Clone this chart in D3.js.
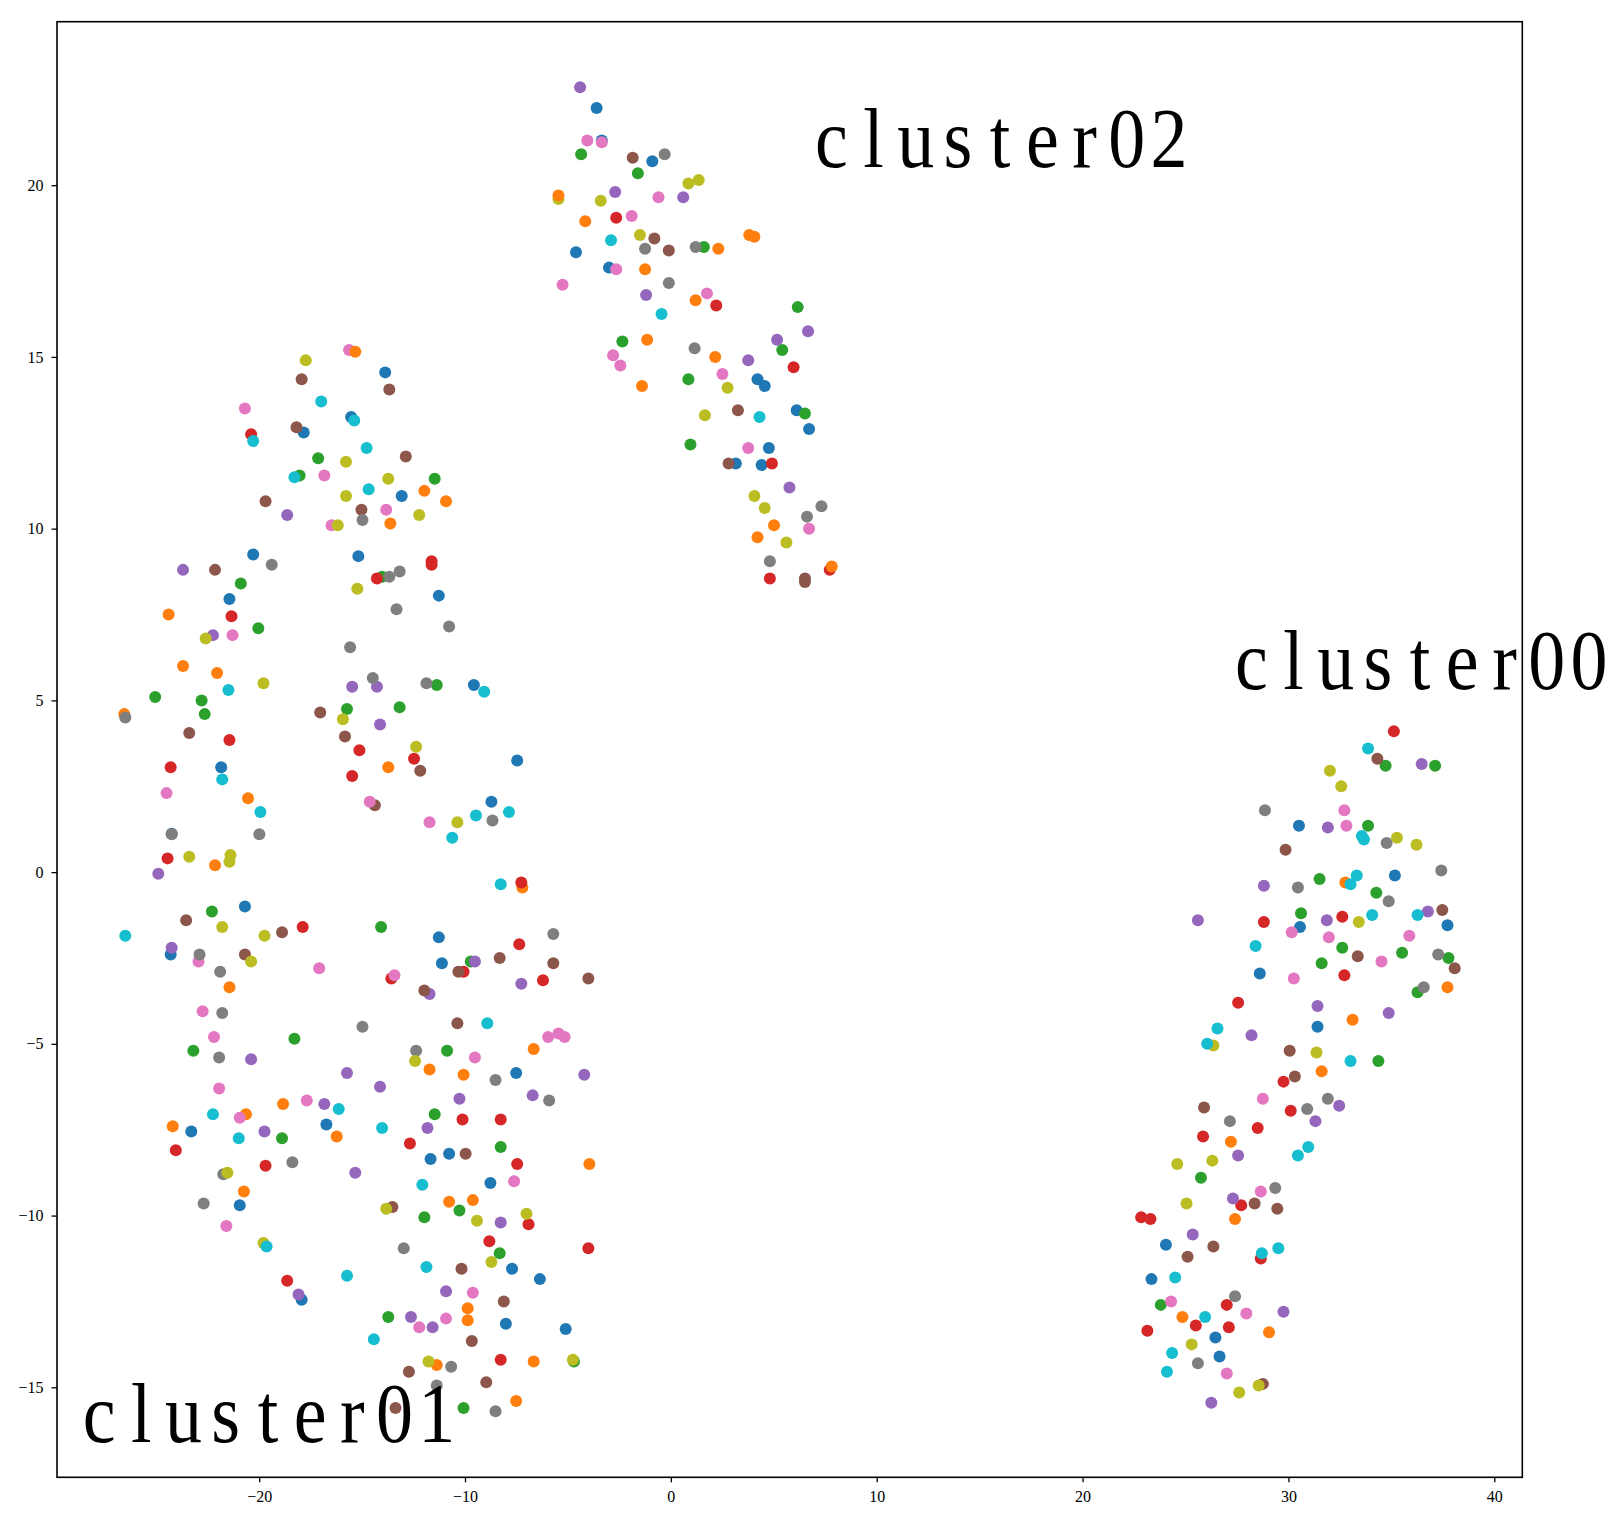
<!DOCTYPE html>
<html><head><meta charset="utf-8">
<script src="https://cdn.jsdelivr.net/npm/d3@7"></script>
<style>html,body{margin:0;padding:0;background:#fff}svg{display:block}</style></head>
<body><svg id="c" width="1617" height="1532"></svg>
<script>
const xTicks=[-20,-10,0,10,20,30,40];
const yTicks=[-15,-10,-5,0,5,10,15,20];
const colors=["#1f77b4","#ff7f0e","#2ca02c","#d62728","#9467bd","#8c564b","#e377c2","#7f7f7f","#bcbd22","#17becf","#ff7f0e"];
const labels=[["cluster02",6.77,20.53],["cluster00",27.17,5.33],["cluster01",-28.8,-16.6]];
const blue=[[-3.6,22.25],[-3.35,21.3],[-0.9,20.7],[-4.6,18.05],[-3,17.6],[4.2,14.35],[4.55,14.15],[6.1,13.45],[6.7,12.9],[4.75,12.35],[3.15,11.9],[4.4,11.85],
[-13.85,14.55],[-15.5,13.25],[-17.8,12.8],[-13.05,10.95],[-20.25,9.25],[-15.15,9.2],[-21.4,7.95],[-11.25,8.05],[-9.55,5.45],[-7.45,3.25],[-21.8,3.05],[-8.7,2.05],[-24.2,1.12],[-20.65,-1],[-11.25,-1.9],[-24.25,-2.4],[-11.1,-2.65],[-7.5,-5.85],[-23.25,-7.55],[-16.7,-7.35],[-10.75,-8.2],[-11.65,-8.35],[-8.75,-9.05],[-20.9,-9.7],[-7.7,-11.55],[-6.35,-11.85],[-17.9,-12.45],[-8,-13.15],[-5.1,-13.3],
[30.45,1.35],[35.1,-0.1],[37.65,-1.55],[30.5,-1.6],[28.55,-2.95],[31.35,-4.5],[24,-10.85],[23.3,-11.85],[26.4,-13.55],[26.6,-14.1]];
const orange=[[-4.15,18.95],[2.3,18.15],[3.8,18.55],[4.05,18.5],[-1.25,17.55],[1.2,16.65],[-1.15,15.5],[2.15,15],[-1.4,14.15],[5,10.1],[4.2,9.75],
[-11.95,11.1],[-10.9,10.8],[-13.6,10.15],[-24.35,7.5],[-23.65,6],[-22,5.8],[-26.5,4.6],[-13.7,3.05],[-20.5,2.15],[-22.1,0.2],[-7.2,-0.45],[-21.4,-3.35],[-6.65,-5.15],[-11.7,-5.75],[-10.05,-5.9],[-18.8,-6.75],[-20.6,-7.05],[-24.15,-7.4],[-16.2,-7.7],[-3.95,-8.5],[-20.7,-9.3],[-10.75,-9.6],[-9.6,-9.55],[-9.85,-12.7],[-9.85,-13.05],[-11.35,-14.35],[-6.65,-14.25],[-7.5,-15.4],
[32.7,-0.3],[37.65,-3.35],[33.05,-4.3],[31.55,-5.8],[27.15,-7.85],[27.35,-10.1],[24.8,-12.95],[29,-13.4]];
const orangeOnTop=[[-5.45,19.7],[7.8,8.9],[-15.3,15.15]];
const green=[[-4.35,20.9],[-1.6,20.35],[1.6,18.2],[6.15,16.45],[5.4,15.2],[-2.35,15.45],[0.85,14.35],[6.5,13.35],[0.95,12.45],
[-17.1,12.05],[-18,11.55],[-11.45,11.45],[-14,8.6],[-20.85,8.4],[-20,7.1],[-11.35,5.45],[-25,5.1],[-22.75,5],[-13.15,4.8],[-15.7,4.75],[-22.6,4.6],[-22.25,-1.15],[-14.05,-1.6],[-9.7,-2.6],[-18.25,-4.85],[-23.15,-5.2],[-10.85,-5.2],[-11.45,-7.05],[-18.85,-7.75],[-8.25,-8],[-10.25,-9.85],[-11.95,-10.05],[-8.3,-11.1],[-13.7,-12.95],[-4.7,-14.25],[-10.05,-15.6],
[34.65,3.1],[37.05,3.1],[33.8,1.35],[31.45,-0.2],[34.2,-0.6],[30.55,-1.2],[32.55,-2.2],[35.45,-2.35],[37.7,-2.5],[31.55,-2.65],[36.2,-3.5],[34.3,-5.5],[25.7,-8.9],[23.75,-12.6]];
const red=[[-2.65,19.05],[2.2,16.5],[5.95,14.7],[4.9,11.9],[4.8,8.55],[7.7,8.8],
[-20.35,12.75],[-11.6,9.05],[-11.6,8.95],[-14.25,8.55],[-21.3,7.45],[-21.4,3.85],[-15.1,3.55],[-12.45,3.3],[-24.25,3.05],[-15.45,2.8],[-24.4,0.4],[-7.25,-0.3],[-17.85,-1.6],[-7.35,-2.1],[-10.05,-2.9],[-13.55,-3.1],[-6.2,-3.15],[-10.1,-7.2],[-8.25,-7.2],[-12.65,-7.9],[-24,-8.1],[-7.45,-8.5],[-19.65,-8.55],[-6.9,-10.25],[-8.8,-10.75],[-4,-10.95],[-18.6,-11.9],[-8.25,-14.2],
[35.05,4.1],[32.55,-1.3],[28.75,-1.45],[32.65,-3],[27.5,-3.8],[29.7,-6.1],[30.05,-6.95],[28.45,-7.45],[25.8,-7.7],[27.65,-9.7],[22.8,-10.05],[23.25,-10.1],[28.6,-11.25],[26.95,-12.6],[25.45,-13.2],[27.05,-13.25],[23.1,-13.35]];
const purple=[[-4.4,22.85],[-2.7,19.8],[0.6,19.65],[-1.2,16.8],[5.15,15.5],[6.65,15.75],[3.75,14.9],[5.75,11.2],
[-18.6,10.4],[-23.65,8.8],[-22.2,6.9],[-15.45,5.4],[-14.25,5.4],[-14.1,4.3],[-24.85,-0.05],[-24.2,-2.2],[-9.5,-2.6],[-7.25,-3.25],[-11.7,-3.55],[-20.35,-5.45],[-15.7,-5.85],[-4.2,-5.9],[-14.1,-6.25],[-6.7,-6.5],[-10.25,-6.6],[-16.8,-6.75],[-11.8,-7.45],[-19.7,-7.55],[-15.3,-8.75],[-8.25,-10.2],[-10.9,-12.2],[-18.05,-12.3],[-12.6,-12.95],[-11.55,-13.25],
[36.4,3.15],[31.85,1.3],[28.75,-0.4],[36.7,-1.15],[31.8,-1.4],[25.55,-1.4],[31.35,-3.9],[34.8,-4.1],[28.15,-4.75],[32.4,-6.8],[31.25,-7.25],[27.5,-8.25],[27.25,-9.5],[25.3,-10.55],[29.7,-12.8],[26.2,-15.45]];
const brown=[[-1.85,20.8],[-0.8,18.45],[-0.1,18.1],[3.25,13.45],[2.8,11.9],[6.5,8.55],[6.5,8.45],
[-17.9,14.35],[-13.65,14.05],[-18.15,12.95],[-12.85,12.1],[-19.65,10.8],[-15,10.55],[-22.1,8.8],[-17,4.65],[-23.35,4.05],[-15.8,3.95],[-12.15,2.95],[-14.35,1.95],[-23.5,-1.4],[-18.85,-1.75],[-20.65,-2.4],[-8.3,-2.5],[-5.7,-2.65],[-10.3,-2.9],[-4,-3.1],[-11.95,-3.45],[-10.35,-4.4],[-9.95,-8.2],[-13.5,-9.75],[-10.15,-11.55],[-8.1,-12.5],[-9.65,-13.65],[-12.7,-14.55],[-8.95,-14.85],[-13.35,-15.6],
[34.25,3.3],[29.8,0.65],[37.4,-1.1],[33.3,-2.45],[38,-2.8],[30,-5.2],[30.25,-5.95],[25.85,-6.85],[28.3,-9.65],[29.4,-9.8],[26.3,-10.9],[25.05,-11.2],[28.7,-14.9]];
const pink=[[-4.05,21.3],[-3.35,21.25],[-0.6,19.65],[-1.9,19.1],[-2.65,17.55],[-5.25,17.1],[1.75,16.85],[-2.8,15.05],[-2.45,14.75],[2.5,14.5],[3.75,12.35],[6.7,10],
[-15.6,15.2],[-20.65,13.5],[-16.8,11.55],[-13.8,10.55],[-16.45,10.1],[-21.25,6.9],[-24.45,2.3],[-14.6,2.05],[-11.7,1.45],[-22.9,-2.6],[-17.05,-2.8],[-13.4,-3],[-22.7,-4.05],[-22.15,-4.8],[-5.95,-4.8],[-5.45,-4.7],[-5.15,-4.8],[-9.5,-5.4],[-21.9,-6.3],[-17.65,-6.65],[-20.9,-7.15],[-7.6,-9],[-21.55,-10.3],[-9.6,-12.25],[-10.9,-13],[-12.2,-13.25],
[32.65,1.8],[32.75,1.35],[30.1,-1.75],[31.9,-1.9],[35.8,-1.85],[34.45,-2.6],[30.2,-3.1],[28.7,-6.6],[28.6,-9.3],[24.25,-12.5],[27.9,-12.85],[26.95,-14.6]];
const gray=[[-0.3,20.9],[-1.25,18.15],[1.2,18.2],[-0.1,17.15],[1.15,15.25],[7.3,10.65],[6.6,10.35],[4.8,9.05],
[-14.95,10.25],[-19.35,8.95],[-13.15,8.75],[-13.65,8.6],[-13.3,7.65],[-10.75,7.15],[-15.55,6.55],[-14.45,5.65],[-11.85,5.5],[-26.45,4.5],[-8.65,1.5],[-24.2,1.1],[-19.95,1.1],[-5.7,-1.8],[-22.85,-2.4],[-21.85,-2.9],[-21.75,-4.1],[-14.95,-4.5],[-12.35,-5.2],[-21.9,-5.4],[-8.5,-6.05],[-5.9,-6.65],[-18.35,-8.45],[-21.7,-8.8],[-22.65,-9.65],[-12.95,-10.95],[-10.65,-14.4],[-11.35,-14.95],[-8.5,-15.7],
[28.8,1.8],[34.7,0.85],[37.35,0.05],[30.4,-0.45],[34.8,-0.85],[37.2,-2.4],[36.5,-3.35],[31.85,-6.6],[30.85,-6.9],[27.1,-7.25],[29.3,-9.2],[27.35,-12.35],[25.55,-14.3]];
const olive=[[0.85,20.05],[1.35,20.15],[-5.45,19.6],[-3.4,19.55],[-1.5,18.55],[2.75,14.1],[1.65,13.3],[4.05,10.95],[4.55,10.6],[5.6,9.6],
[-17.7,14.9],[-15.75,11.95],[-13.7,11.45],[-15.75,10.95],[-12.2,10.4],[-16.15,10.1],[-15.2,8.25],[-22.55,6.8],[-19.75,5.5],[-15.9,4.45],[-12.35,3.65],[-10.35,1.45],[-21.35,0.5],[-23.35,0.45],[-21.4,0.3],[-21.75,-1.6],[-19.7,-1.85],[-20.35,-2.6],[-12.4,-5.5],[-21.5,-8.75],[-13.8,-9.8],[-7,-9.95],[-9.4,-10.15],[-19.75,-10.8],[-8.7,-11.35],[-11.75,-14.25],[-4.75,-14.2],
[31.95,2.95],[32.5,2.5],[35.2,1],[36.15,0.8],[33.35,-1.45],[26.3,-5.05],[31.3,-5.25],[26.25,-8.4],[24.55,-8.5],[25,-9.65],[25.25,-13.75],[28.5,-14.95],[27.55,-15.15]];
const cyan=[[-2.9,18.4],[-0.45,16.25],[4.3,13.25],
[-16.95,13.7],[-15.35,13.15],[-20.25,12.55],[-14.75,12.35],[-18.25,11.5],[-14.65,11.15],[-9.05,5.25],[-21.45,5.3],[-21.75,2.7],[-19.9,1.75],[-7.85,1.75],[-9.45,1.65],[-10.6,1],[-8.25,-0.35],[-26.45,-1.85],[-8.9,-4.4],[-16.1,-6.9],[-22.2,-7.05],[-14,-7.45],[-20.95,-7.75],[-12.05,-9.1],[-19.6,-10.9],[-11.85,-11.5],[-15.7,-11.75],[-14.4,-13.6],
[33.8,3.6],[33.5,1.05],[33.6,0.95],[32.95,-0.35],[33.25,-0.1],[36.2,-1.25],[34,-1.25],[28.35,-2.15],[26.5,-4.55],[26,-5],[32.95,-5.5],[30.9,-8],[30.4,-8.25],[29.45,-10.95],[28.65,-11.1],[24.45,-11.8],[25.9,-12.95],[24.3,-14],[24.05,-14.55]];

const series=[blue,orange,green,red,purple,brown,pink,gray,olive,cyan,orangeOnTop];
const L=57,R=1522.3,T=21.7,B=1477.3;
const x=d3.scaleLinear().domain([-29.82,41.36]).range([L,R]);
const y=d3.scaleLinear().domain([-17.62,24.76]).range([B,T]);
const readScale=1.002; // calibration of the values
const svg=d3.select("#c");
const font='"Liberation Serif",serif';
svg.selectAll("g.s").data(series).join("g").attr("class","s").attr("fill",(d,i)=>colors[i])
 .selectAll("circle").data(d=>d).join("circle")
 .attr("cx",d=>x(d[0]*readScale)).attr("cy",d=>y(d[1])).attr("r",6);
const fmt=d=>d<0?"\u2212"+(-d):""+d;
const gx=svg.append("g").attr("transform",`translate(0,${B})`).call(d3.axisBottom(x).tickValues(xTicks).tickFormat(fmt).tickSize(5).tickPadding(8));
const gy=svg.append("g").attr("transform",`translate(${L},0)`).call(d3.axisLeft(y).tickValues(yTicks).tickFormat(fmt).tickSize(5.5).tickPadding(8));
[gx,gy].forEach(g=>{g.select(".domain").remove();g.selectAll("line").attr("stroke","#000").attr("stroke-width",1.3);
 g.selectAll("text").attr("fill","#000").style("font-family",font).style("font-size","16px");});
svg.append("rect").attr("x",L).attr("y",T).attr("width",R-L).attr("height",B-T).attr("fill","none").attr("stroke","#000").attr("stroke-width",1.6);
// big labels: half-width slots like the reference's monospaced Latin glyphs
const slot=42.2,squeeze=0.88;
const lab=svg.selectAll("text.lab").data(labels).join("text").attr("class","lab")
 .attr("y",d=>y(d[2])).attr("transform",`scale(${squeeze},1)`).style("font-family",font).style("font-size","84px").attr("fill","#000").text(d=>d[0]);
lab.each(function(d){
 const el=this,xs=[];let cur=x(d[1]);
 const t=svg.append("text").style("font-family",font).style("font-size","84px");
 for(const ch of d[0]){t.text(ch);const w=t.node().getComputedTextLength()*squeeze;xs.push(((cur+(slot-w)/2)/squeeze).toFixed(1));cur+=slot;}
 t.remove();d3.select(el).attr("x",xs.join(" "));
});
</script></body></html>
